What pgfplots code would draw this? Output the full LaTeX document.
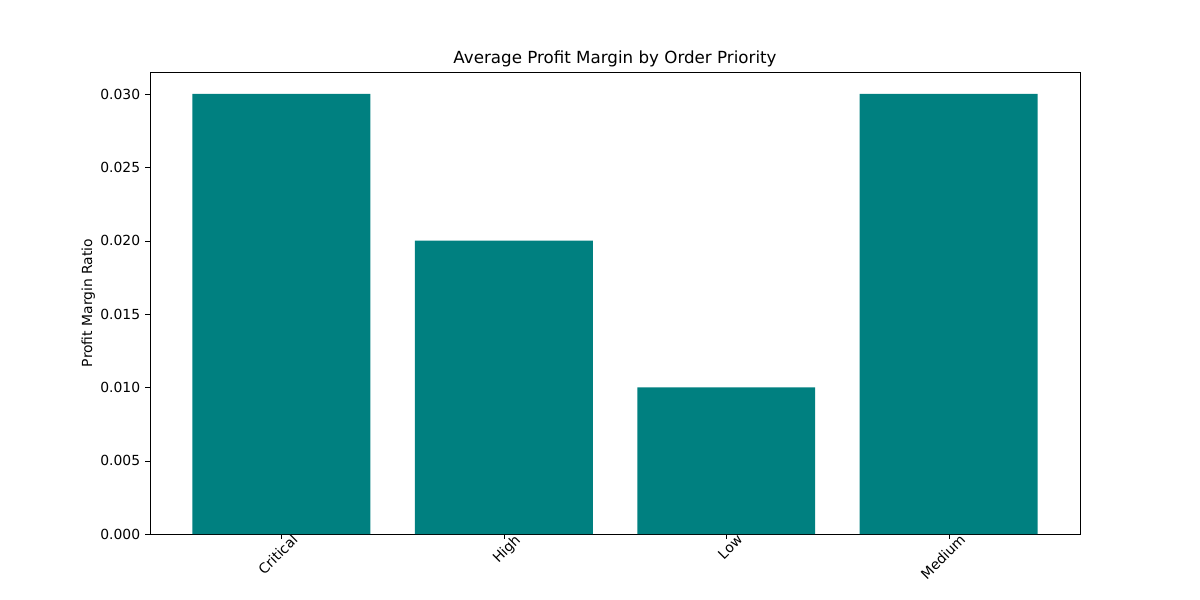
\documentclass[border=0pt]{standalone}
\usepackage{pgfplots}
\pgfplotsset{compat=1.18}
\usepackage{fontspec}
\setmainfont{DejaVu Sans}
\definecolor{teal1}{RGB}{0,128,128}
\begin{document}
\fontsize{13.9}{16}\selectfont
\begin{tikzpicture}[x=1pt,y=1pt]
\path (0,0) rectangle (1200,600);
\begin{axis}[at={(150pt,66pt)},anchor=south west,
 scale only axis,width=930pt,height=462pt,
 xmin=-0.59,xmax=3.59,ymin=0,ymax=0.0315,
 xtick=data,xticklabels={Critical,High,Low,Medium},
 xticklabel style={rotate=45,anchor=north east,inner sep=2pt,xshift=13pt,yshift=-1pt},
 ytick={0,0.005,0.01,0.015,0.02,0.025,0.03},
 yticklabel style={/pgf/number format/.cd,fixed,fixed zerofill,precision=3},
 /pgf/number format/assume math mode=true,
 scaled y ticks=false,
 tick style={black},tick align=outside,
 xtick pos=bottom,ytick pos=left,
 major tick length=5pt,
 ylabel={Profit Margin Ratio},
 ylabel style={yshift=-4pt},
 title={Average Profit Margin by Order Priority},
 title style={yshift=-6pt},
 ticklabel style={font=\fontsize{13.9}{16}\selectfont},
 label style={font=\fontsize{13.9}{16}\selectfont},
 title style={font=\fontsize{16.7}{19}\selectfont},
]
\addplot[ybar,bar width=0.8,fill=teal1,draw=none,bar shift=0pt] coordinates {(0,0.03)(1,0.02)(2,0.01)(3,0.03)};
\end{axis}
\end{tikzpicture}
\end{document}
